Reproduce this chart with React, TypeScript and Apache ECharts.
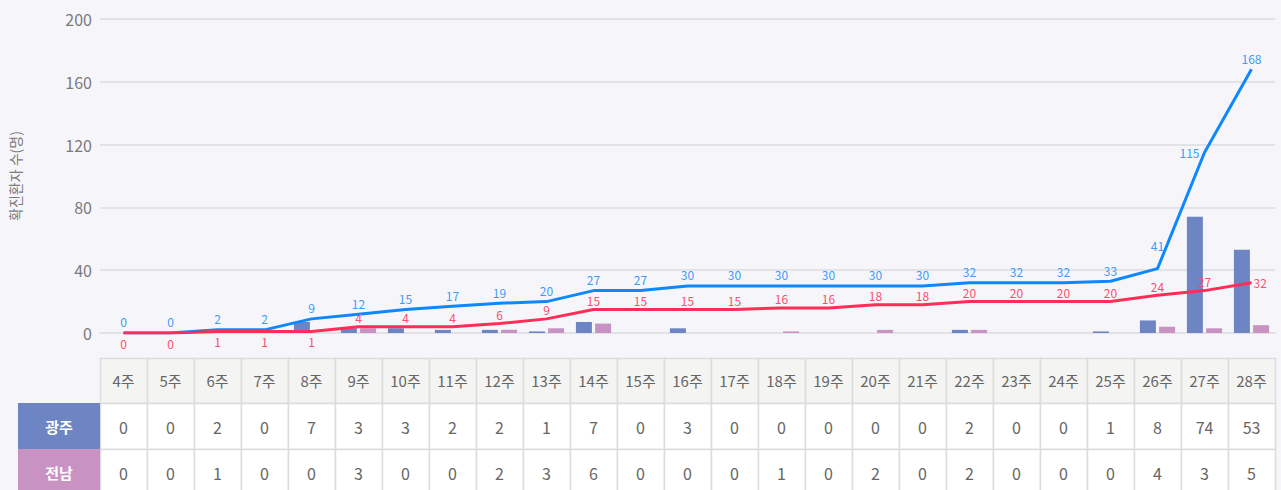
import React, { useEffect, useRef } from "react";
import * as echarts from "echarts";

const weeks = ["4주","5주","6주","7주","8주","9주","10주","11주","12주","13주","14주","15주","16주","17주","18주","19주","20주","21주","22주","23주","24주","25주","26주","27주","28주"];
const gwangju = [0,0,2,0,7,3,3,2,2,1,7,0,3,0,0,0,0,0,2,0,0,1,8,74,53];
const jeonnam = [0,0,1,0,0,3,0,0,2,3,6,0,0,0,1,0,2,0,2,0,0,0,4,3,5];
const gwangjuCum = [0,0,2,2,9,12,15,17,19,20,27,27,30,30,30,30,30,30,32,32,32,33,41,115,168];
const jeonnamCum = [0,0,1,1,1,4,4,4,6,9,15,15,15,15,16,16,18,18,20,20,20,20,24,27,32];
const yTicks = [0, 40, 80, 120, 160, 200];
const rowNames = ["광주", "전남"];

const FONT = "'Noto Sans CJK KR', 'Noto Sans', sans-serif";
const C_GJ_BAR = "#6e85c3";
const C_JN_BAR = "#c893c3";
const C_GJ_LINE = "#0f87ff";
const C_JN_LINE = "#ff2d58";
const C_GJ_LABEL = "#3d9cf6";
const C_JN_LABEL = "#ff4d6d";

export default function App() {
  const ref = useRef<HTMLDivElement>(null);
  useEffect(() => {
    if (!ref.current) return;
    const chart = echarts.init(ref.current, null, { renderer: "svg" });
    const n = weeks.length;
    const gjCumData = gwangjuCum.map((v, i) => {
      if (i === n - 2) return { value: v, label: { position: "left", distance: 5 } };
      if (i === n - 3) return { value: v, label: { position: "top", distance: 17 } };
      return v;
    });
    const jnCumData = jeonnamCum.map((v, i) => {
      if (i < 5) return { value: v, label: { position: "bottom", distance: 4 } };
      if (i === n - 1) return { value: v, label: { position: "right", distance: 2 } };
      return v;
    });
    chart.setOption({
      animation: false,
      backgroundColor: "transparent",
      textStyle: { fontFamily: FONT },
      grid: { left: 100, right: 6, top: 19, bottom: 157, containLabel: false, outerBoundsMode: "none" },
      xAxis: {
        type: "category",
        data: weeks,
        axisLine: { show: true, lineStyle: { color: "#e2e2e6", width: 2 } },
        axisTick: { show: false },
        axisLabel: { show: false },
      },
      yAxis: {
        type: "value",
        min: yTicks[0],
        max: yTicks[yTicks.length - 1],
        interval: 40,
        name: "확진환자 수(명)",
        nameLocation: "middle",
        nameGap: 78,
        nameTextStyle: { fontSize: 14, color: "#7a7a7a", fontFamily: FONT },
        axisLine: { show: false },
        axisTick: { show: false },
        axisLabel: { fontSize: 16, color: "#7a7a7a", margin: 8, fontFamily: FONT },
        splitLine: { lineStyle: { color: "#dcdce0", width: 1.5 } },
      },
      series: [
        {
          name: "광주",
          type: "bar",
          data: gwangju,
          barWidth: 16,
          barGap: "20%",
          itemStyle: { color: C_GJ_BAR },
        },
        {
          name: "전남",
          type: "bar",
          data: jeonnam,
          barWidth: 16,
          barGap: "20%",
          itemStyle: { color: C_JN_BAR },
        },
        {
          name: "광주 누적",
          type: "line",
          data: gjCumData,
          showSymbol: true,
          symbol: "circle",
          symbolSize: 0.01,
          lineStyle: { color: C_GJ_LINE, width: 3 },
          itemStyle: { color: C_GJ_LINE },
          label: { show: true, position: "top", distance: 5, fontSize: 12, color: C_GJ_LABEL, fontFamily: FONT },
          labelLayout: { hideOverlap: false },
          z: 3,
        },
        {
          name: "전남 누적",
          type: "line",
          data: jnCumData,
          showSymbol: true,
          symbol: "circle",
          symbolSize: 0.01,
          lineStyle: { color: C_JN_LINE, width: 3 },
          itemStyle: { color: C_JN_LINE },
          label: { show: true, position: "top", distance: 3, fontSize: 12, color: C_JN_LABEL, fontFamily: FONT },
          labelLayout: { hideOverlap: false },
          z: 4,
        },
      ],
    });

    // Build the data table under the chart, aligned with the category axis.
    const x0 = chart.convertToPixel({ xAxisIndex: 0 }, weeks[0]) as number;
    const x1 = chart.convertToPixel({ xAxisIndex: 0 }, weeks[1]) as number;
    const cw = x1 - x0;
    const headerTop = 358;
    const headerH = 45;
    const rowH = 46;
    const border = "#dcdcdc";
    const els: any[] = [];
    weeks.forEach((w, i) => {
      const cx = chart.convertToPixel({ xAxisIndex: 0 }, w) as number;
      const left = Math.round(cx - cw / 2) + 0.5;
      const width = Math.round(cw);
      els.push({
        type: "rect",
        shape: { x: left, y: headerTop + 0.5, width, height: headerH },
        style: { fill: "#f4f5f3", stroke: border, lineWidth: 1.5 },
      });
      els.push({
        type: "text",
        x: cx,
        y: headerTop + headerH / 2,
        style: { text: w, fill: "#666666", fontSize: 15, fontFamily: FONT, align: "center", verticalAlign: "middle" },
      });
      [gwangju, jeonnam].forEach((arr, r) => {
        const top = headerTop + headerH + r * rowH + 0.5;
        els.push({
          type: "rect",
          shape: { x: left, y: top, width, height: rowH },
          style: { fill: "#ffffff", stroke: border, lineWidth: 1.5 },
        });
        els.push({
          type: "text",
          x: cx,
          y: top + rowH / 2,
          style: { text: String(arr[i]), fill: "#666666", fontSize: 16, fontFamily: FONT, align: "center", verticalAlign: "middle" },
        });
      });
    });
    const firstLeft = Math.round(x0 - cw / 2);
    rowNames.forEach((name, r) => {
      const top = headerTop + headerH + r * rowH;
      els.push({
        type: "rect",
        shape: { x: 18, y: top, width: firstLeft - 18, height: rowH },
        style: { fill: r === 0 ? C_GJ_BAR : C_JN_BAR },
      });
      els.push({
        type: "text",
        x: (18 + firstLeft) / 2,
        y: top + rowH / 2,
        style: { text: name, fill: "#ffffff", fontSize: 15, fontWeight: "bold", fontFamily: FONT, align: "center", verticalAlign: "middle" },
      });
    });
    chart.setOption({ graphic: { elements: els } });

    return () => chart.dispose();
  }, []);

  return (
    <div
      style={{ position: "absolute", left: 0, top: 0, width: 1281, height: 490, background: "#f6f6fa", overflow: "hidden" }}
    >
      <div ref={ref} style={{ width: 1281, height: 490 }} />
    </div>
  );
}
